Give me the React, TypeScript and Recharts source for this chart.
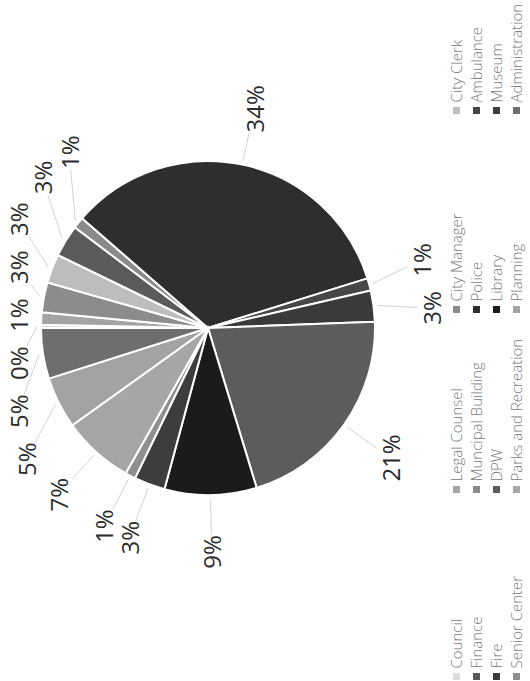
import { PieChart, Pie, Cell } from "recharts";

const FONT = "'Open Sans', 'Noto Sans', sans-serif";

// departments, in legend order (row by row)
const departments = [
  "Council",
  "Legal Counsel",
  "City Manager",
  "City Clerk",
  "Finance",
  "Muncipal Building",
  "Police",
  "Ambulance",
  "Fire",
  "DPW",
  "Library",
  "Museum",
  "Senior Center",
  "Parks and Recreation",
  "Planning",
  "Administration",
];

// share of the budget, in percent
const shares = [0.3, 1.2, 2.9, 2.8, 3.1, 1.1, 33.8, 1.2, 3.0, 20.9, 8.9, 3.0, 1.0, 6.9, 5.0, 4.9];

const grays = [
  "#dcdcdc", "#a4a4a4", "#8c8c8c", "#bdbdbd",
  "#5a5a5a", "#8a8a8a", "#2e2e2e", "#474747",
  "#3a3a3a", "#5c5c5c", "#1b1b1b", "#3d3d3d",
  "#8f8f8f", "#a6a6a6", "#a3a3a3", "#6e6e6e",
];

const data = departments.map((name, i) => ({ name, value: shares[i] }));

// chart is drawn landscape, then turned a quarter turn to the left
const W = 681;
const H = 530;
const CX = 353;
const CY = 208;
const R = 167;
const LABEL_R = 224;
const LABEL_SIZE = 24;
const TOP = 18;
const BOTTOM = H - 18;
const LW = 48;
const LH = 24;
const RAD = Math.PI / 180;

type Spot = { x: number; y: number; up: boolean };

// place labels round the pie, then push apart the ones that collide
function layoutLabels(): Spot[] {
  const total = shares.reduce((a, b) => a + b, 0);
  let a = 90;
  const pts: Spot[] = shares.map((v) => {
    const span = (360 * v) / total;
    const mid = a - span / 2;
    a -= span;
    const x = CX + LABEL_R * Math.cos(-mid * RAD);
    const y = CY + LABEL_R * Math.sin(-mid * RAD);
    return { x, y, up: y < CY };
  });
  const project = (p: Spot) => {
    const dx = p.x - CX;
    const h = Math.sqrt(Math.max(0, LABEL_R * LABEL_R - dx * dx));
    p.y = p.up ? CY - h : CY + h;
    p.y = Math.min(Math.max(p.y, TOP), BOTTOM);
  };
  pts.forEach(project);
  for (let it = 0; it < 400; it++) {
    let moved = false;
    for (let i = 0; i < pts.length; i++) {
      for (let j = i + 1; j < pts.length; j++) {
        const p = pts[i];
        const q = pts[j];
        const dx = Math.abs(p.x - q.x);
        const dy = Math.abs(p.y - q.y);
        if (dx < LW && dy < LH) {
          const push = (LW - dx) / 4;
          const s = p.x < q.x || (p.x === q.x && p.up) ? -1 : 1;
          p.x += s * push;
          q.x -= s * push;
          moved = true;
        }
      }
    }
    pts.forEach(project);
    if (!moved) break;
  }
  return pts;
}

const spots = layoutLabels();

function renderLabel(props: any) {
  const { cx, cy, midAngle, outerRadius, percent, index } = props;
  const spot = spots[index];
  const text = `${Math.round(percent * 100)}%`;
  const ex = cx + (outerRadius + 4) * Math.cos(-midAngle * RAD);
  const ey = cy + (outerRadius + 4) * Math.sin(-midAngle * RAD);
  const bw = (text.length * 0.6 * LABEL_SIZE) / 2 + 3;
  const bh = 14;
  const ddx = ex - spot.x;
  const ddy = ey - spot.y;
  const t = Math.min(
    ddx === 0 ? Infinity : bw / Math.abs(ddx),
    ddy === 0 ? Infinity : bh / Math.abs(ddy)
  );
  const sx = spot.x + t * ddx;
  const sy = spot.y + t * ddy;
  const showLine = t < 1 && Math.hypot(ex - sx, ey - sy) > 6;
  return (
    <g key={`lbl-${index}`}>
      {showLine && <line x1={ex} y1={ey} x2={sx} y2={sy} stroke="#d2d2d2" strokeWidth={1} />}
      <text
        x={spot.x}
        y={spot.y}
        textAnchor="middle"
        dominantBaseline="central"
        fontSize={LABEL_SIZE}
        fontFamily={FONT}
        fill="#2b2b2b"
      >
        {text}
      </text>
    </g>
  );
}

// legend grid: marker centres per column, text centre line per row
const legendCols = [4, 191, 371, 570];
const legendRows = [456, 476, 496, 516];

export default function App() {
  return (
    <div
      style={{
        position: "fixed",
        left: 0,
        top: 0,
        width: 530,
        height: 681,
        overflow: "hidden",
        background: "#fff",
      }}
    >
      <div
        style={{
          position: "absolute",
          left: 0,
          top: 0,
          width: W,
          height: H,
          transformOrigin: "0 0",
          transform: `translateY(${W}px) rotate(-90deg)`,
        }}
      >
        <PieChart width={W} height={H} margin={{ top: 0, right: 0, bottom: 0, left: 0 }}>
          <Pie
            data={data}
            dataKey="value"
            nameKey="name"
            cx={CX}
            cy={CY}
            outerRadius={R}
            startAngle={90}
            endAngle={-270}
            stroke="#fff"
            strokeWidth={2}
            label={renderLabel}
            labelLine={false}
            isAnimationActive={false}
          >
            {data.map((d, i) => (
              <Cell key={d.name} fill={grays[i]} />
            ))}
          </Pie>
        </PieChart>

        {/* legend, four per row */}
        {departments.map((name, i) => (
          <div
            key={name}
            style={{
              position: "absolute",
              left: legendCols[i % 4] - 3.5,
              top: legendRows[Math.floor(i / 4)] - 10,
              height: 20,
              display: "flex",
              alignItems: "center",
              whiteSpace: "nowrap",
              fontFamily: FONT,
              fontWeight: 300,
              fontSize: 15,
              color: "#7a7a7a",
            }}
          >
            <span
              style={{
                display: "inline-block",
                width: 7,
                height: 7,
                background: grays[i],
                marginRight: 5,
              }}
            />
            {name}
          </div>
        ))}
      </div>
    </div>
  );
}
